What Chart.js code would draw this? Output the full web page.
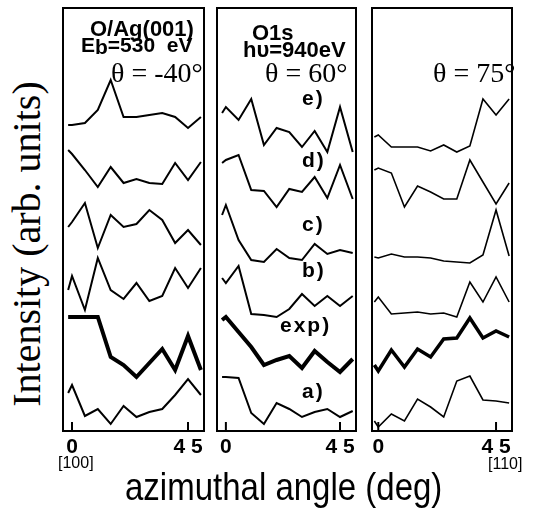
<!DOCTYPE html>
<html>
<head>
<meta charset="utf-8">
<script src="https://cdn.jsdelivr.net/npm/chart.js@4"></script>
<style>
  body { margin: 0; background: #fff; }
  #wrap { position: relative; width: 533px; height: 510px; overflow: hidden; }
  canvas { position: absolute; top: 5px; }
  .t { position: absolute; line-height: 1; white-space: pre; color: #000; }
  .sans { font-family: "Liberation Sans", Arial, sans-serif; }
  .bold { font-weight: bold; }
  .serif { font-family: "Liberation Serif", "Times New Roman", serif; }
</style>
</head>
<body>
<div id="wrap">
  <canvas id="p1" width="147" height="456" style="left:60px"></canvas>
  <canvas id="p2" width="145" height="456" style="left:214px"></canvas>
  <canvas id="p3" width="146" height="456" style="left:369px"></canvas>

  <div class="t sans bold" style="left:90px;top:18px;font-size:22px">O/Ag(001)</div>
  <div class="t sans bold" style="left:81px;top:34px;font-size:21px">E<span style="position:relative;top:2px">b</span>=530  eV</div>
  <div class="t serif" id="th1" style="left:111px;top:59px;font-size:28px"></div>

  <div class="t sans bold" style="left:252px;top:22px;font-size:22px">O1s</div>
  <div class="t sans bold" style="left:243px;top:39px;font-size:22px">hυ=940eV</div>
  <div class="t serif" id="th2" style="left:265px;top:59px;font-size:28px"></div>

  <div class="t serif" id="th3" style="left:433px;top:59px;font-size:28px"></div>

  <div id="labels"></div>

  <div class="t sans" style="left:58px;top:455px;font-size:16px">[100]</div>
  <div class="t sans" style="left:488px;top:456px;font-size:16px">[110]</div>

  <div class="t sans" style="left:125px;top:472px;font-size:33px;transform-origin:0 28px;transform:scaleY(1.15)">azimuthal angle (deg)</div>
  <div class="t serif" style="left:27px;top:244px;font-size:40px;transform:translate(-50%,-50%) rotate(-90deg)">Intensity (arb. units)</div>
</div>

<script>
// azimuthal angles (deg) of the measured points
const angles = [-1.5, 0, 5, 10, 15, 20, 25, 30, 35, 40, 45, 50];
const tickAngles = [0, 45];
const thetaLabels = ['θ = -40°', 'θ = 60°', 'θ = 75°'];
const curveNames = ['e)', 'd)', 'c)', 'b)', 'exp)', 'a)'];

// theta = -40 (curves stacked with offsets, arb. units)
const m40e   = [306, 306, 308, 321, 351, 314, 314, 316, 318, 314, 303, 314];
const m40d   = [281, 277, 261, 244, 264, 248, 252, 248, 247, 268, 251, 269];
const m40c   = [204, 209, 228, 183, 216, 204, 207, 221, 211, 188, 201, 186];
const m40b   = [141, 155, 121, 173, 141, 132, 148, 130, 135, 163, 143, 163];
const m40exp = [114, 114, 114, 114, 74, 66, 54, 68, 82, 61, 95, 61];
const m40a   = [38, 46, 15, 22, 7, 25, 14, 19, 22, 36, 52, 36];

// theta = 60
const p60e   = [318, 324, 311, 332, 286, 303, 299, 284, 300, 279, 324, 279];
const p60d   = [268, 271, 276, 241, 240, 224, 242, 239, 254, 233, 266, 232];
const p60c   = [216, 226, 191, 171, 169, 182, 173, 171, 187, 177, 181, 178];
const p60b   = [153, 148, 165, 117, 116, 114, 122, 137, 125, 135, 125, 135];
const p60exp = [111, 114, 99, 84, 66, 71, 75, 63, 80, 69, 59, 72];
const p60a   = [54, 54, 53, 18, 7, 28, 22, 14, 19, 22, 14, 20];

// theta = 75
const p75e   = [294, 296, 284, 284, 284, 280, 286, 279, 285, 332, 316, 332];
const p75d   = [261, 263, 258, 224, 245, 239, 232, 232, 271, 249, 227, 248];
const p75c   = [174, 173, 177, 174, 174, 173, 170, 169, 168, 176, 221, 175];
const p75b   = [129, 134, 117, 118, 119, 117, 118, 114, 149, 129, 154, 129];
const p75exp = [66, 60, 81, 64, 82, 74, 92, 93, 113, 93, 100, 94];
const p75a   = [10, 4, 17, 10, 32, 24, 14, 50, 55, 31, 30, 28];

// caixa em volta do painel + marcas de escala para dentro
const framePlugin = {
  id: 'frame',
  afterDatasetsDraw(chart, args, opts) {
    const ctx = chart.ctx;
    const a = chart.chartArea;
    const x = chart.scales.x;
    ctx.save();
    ctx.strokeStyle = '#000';
    ctx.lineWidth = opts.width;
    ctx.strokeRect(a.left, a.top, a.right - a.left, a.bottom - a.top);
    x.ticks.forEach(t => {
      const px = x.getPixelForValue(t.value);
      ctx.beginPath();
      ctx.moveTo(px, a.bottom);
      ctx.lineTo(px, a.bottom - 9);
      ctx.stroke();
    });
    ctx.restore();
  }
};

function makePanel(id, xMin, xMax, series, lineW, expW, frameW) {
  const datasets = series.map((vals, i) => ({
    label: curveNames[i],
    data: angles.map((a, k) => ({ x: a, y: vals[k] })),
    borderColor: '#000',
    borderWidth: curveNames[i] === 'exp)' ? expW : lineW,
    pointRadius: 0,
    tension: 0,
    fill: false,
    clip: false
  }));

  new Chart(document.getElementById(id), {
    type: 'line',
    data: { datasets: datasets },
    options: {
      responsive: false,
      animation: false,
      devicePixelRatio: 1,
      layout: { padding: { top: 3, left: 3, right: 3, bottom: 0 } },
      scales: {
        x: {
          type: 'linear',
          min: xMin,
          max: xMax,
          afterBuildTicks: s => { s.ticks = tickAngles.map(v => ({ value: v })); },
          afterFit: s => { s.height = 30; },
          grid: { display: false },
          border: { display: false },
          ticks: {
            autoSkip: false,
            maxRotation: 0,
            padding: -4,
            color: '#000',
            font: { family: '"Liberation Sans", Arial, sans-serif', weight: 'bold', size: 21 },
            callback: v => String(v).split('').join(' ')
          }
        },
        y: { display: false, min: 0, max: 423 }
      },
      plugins: {
        legend: { display: false },
        tooltip: { enabled: false },
        frame: { width: frameW }
      }
    },
    plugins: [framePlugin]
  });
}

makePanel('p1', -3.5, 51.2, [m40e, m40d, m40c, m40b, m40exp, m40a], 2, 4, 2);
makePanel('p2', -3.5, 51.3, [p60e, p60d, p60c, p60b, p60exp, p60a], 2, 4, 2);
makePanel('p3', -2.4, 51.1, [p75e, p75d, p75c, p75b, p75exp, p75a], 1.6, 3.5, 2);

// textos
document.getElementById('th1').textContent = thetaLabels[0];
document.getElementById('th2').textContent = thetaLabels[1];
document.getElementById('th3').textContent = thetaLabels[2];

// rótulos das curvas no painel do meio
const labelLeft = [302, 302, 302, 302, 280, 302];
const labelTop = [87, 149, 213, 259, 314, 380];
const holder = document.getElementById('labels');
curveNames.forEach((name, i) => {
  const div = document.createElement('div');
  div.className = 't sans bold';
  div.style.left = labelLeft[i] + 'px';
  div.style.top = labelTop[i] + 'px';
  div.style.fontSize = '21px';
  div.style.letterSpacing = '2px';
  div.textContent = name;
  holder.appendChild(div);
});
</script>
</body>
</html>
